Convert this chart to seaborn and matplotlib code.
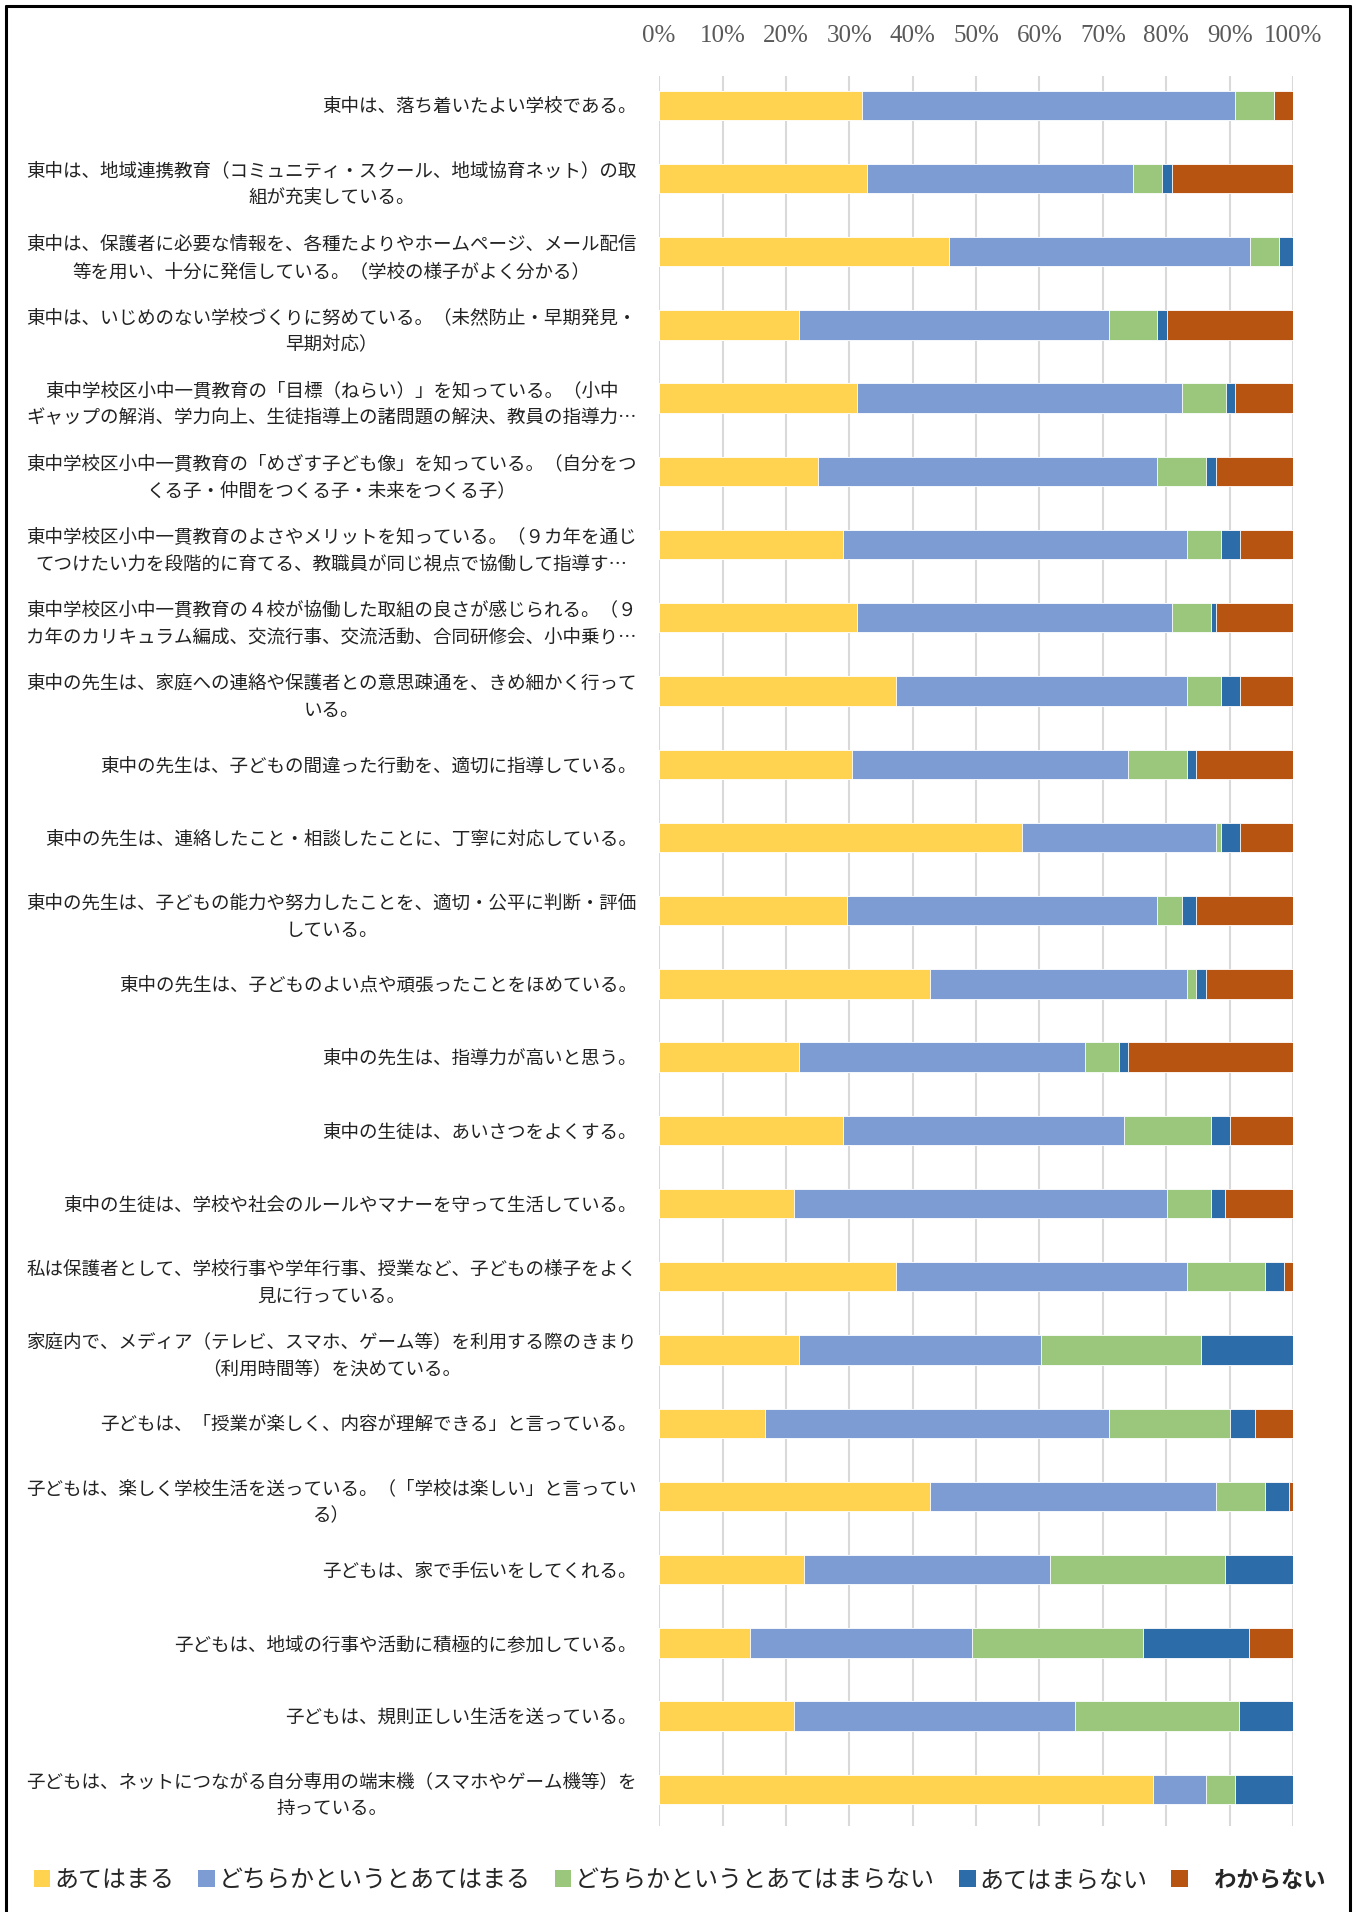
import numpy as np
import pandas as pd
import matplotlib.pyplot as plt
import seaborn as sns
from matplotlib.patches import Patch
from matplotlib.lines import Line2D

# Data (percent of responses per item)
items = [
    "東中は、落ち着いたよい学校である。",
    "東中は、地域連携教育（コミュニティ・スクール、地域協育ネット）の取\n組が充実している。",
    "東中は、保護者に必要な情報を、各種たよりやホームページ、メール配信\n等を用い、十分に発信している。（学校の様子がよく分かる）",
    "東中は、いじめのない学校づくりに努めている。（未然防止・早期発見・\n早期対応）",
    "東中学校区小中一貫教育の「目標（ねらい）」を知っている。（小中\nギャップの解消、学力向上、生徒指導上の諸問題の解決、教員の指導力…",
    "東中学校区小中一貫教育の「めざす子ども像」を知っている。（自分をつ\nくる子・仲間をつくる子・未来をつくる子）",
    "東中学校区小中一貫教育のよさやメリットを知っている。（９カ年を通じ\nてつけたい力を段階的に育てる、教職員が同じ視点で協働して指導す…",
    "東中学校区小中一貫教育の４校が協働した取組の良さが感じられる。（９\nカ年のカリキュラム編成、交流行事、交流活動、合同研修会、小中乗り…",
    "東中の先生は、家庭への連絡や保護者との意思疎通を、きめ細かく行って\nいる。",
    "東中の先生は、子どもの間違った行動を、適切に指導している。",
    "東中の先生は、連絡したこと・相談したことに、丁寧に対応している。",
    "東中の先生は、子どもの能力や努力したことを、適切・公平に判断・評価\nしている。",
    "東中の先生は、子どものよい点や頑張ったことをほめている。",
    "東中の先生は、指導力が高いと思う。",
    "東中の生徒は、あいさつをよくする。",
    "東中の生徒は、学校や社会のルールやマナーを守って生活している。",
    "私は保護者として、学校行事や学年行事、授業など、子どもの様子をよく\n見に行っている。",
    "家庭内で、メディア（テレビ、スマホ、ゲーム等）を利用する際のきまり\n（利用時間等）を決めている。",
    "子どもは、「授業が楽しく、内容が理解できる」と言っている。",
    "子どもは、楽しく学校生活を送っている。（「学校は楽しい」と言ってい\nる）",
    "子どもは、家で手伝いをしてくれる。",
    "子どもは、地域の行事や活動に積極的に参加している。",
    "子どもは、規則正しい生活を送っている。",
    "子どもは、ネットにつながる自分専用の端末機（スマホやゲーム機等）を\n持っている。",
]

categories = ["あてはまる", "どちらかというとあてはまる", "どちらかというとあてはまらない",
              "あてはまらない", "わからない"]

atehamaru = [32.0, 32.8, 45.8, 22.1, 31.2, 25.1, 29.0, 31.2, 37.3, 30.5, 57.2, 29.7,
             42.7, 22.1, 29.0, 21.3, 37.3, 22.1, 16.7, 42.7, 22.9, 14.4, 21.3, 77.9]
dochiraka_ate = [58.8, 42.0, 47.4, 48.8, 51.2, 53.5, 54.2, 49.7, 45.9, 43.5, 30.6, 48.9,
                 40.5, 45.0, 44.3, 58.8, 45.9, 38.2, 54.2, 45.1, 38.8, 35.0, 44.3, 8.3]
dochiraka_not = [6.2, 4.6, 4.5, 7.7, 7.0, 7.7, 5.4, 6.1, 5.4, 9.2, 0.8, 3.9,
                 1.5, 5.4, 13.7, 6.9, 12.3, 25.2, 19.2, 7.7, 27.5, 26.9, 25.9, 4.6]
atehamaranai = [0.0, 1.5, 2.3, 1.5, 1.5, 1.5, 3.0, 0.8, 3.0, 1.5, 3.0, 2.2,
                1.6, 1.5, 3.0, 2.3, 3.0, 14.5, 3.9, 3.8, 10.8, 16.8, 8.5, 9.2]
wakaranai = [3.0, 19.1, 0.0, 19.9, 9.1, 12.2, 8.4, 12.2, 8.4, 15.3, 8.4, 15.3,
             13.7, 26.0, 10.0, 10.7, 1.5, 0.0, 6.0, 0.7, 0.0, 6.9, 0.0, 0.0]

colors = ["#FFD34F", "#7D9CD4", "#9AC77B", "#2C6DA9", "#B85412"]

series = [atehamaru, dochiraka_ate, dochiraka_not, atehamaranai, wakaranai]
cum = np.cumsum(np.array(series), axis=0)

sns.set_style("white")
plt.rcParams['font.family'] = ['Noto Sans CJK JP', 'DejaVu Sans']

fig = plt.figure(figsize=(13.59, 19.12), dpi=100)
ax = fig.add_axes([0.485, 0.045, 0.4665, 0.9153])

# stacked bars: draw cumulative totals from the longest down
for k in range(len(series) - 1, -1, -1):
    df = pd.DataFrame({"item": items, "value": cum[k]})
    sns.barplot(data=df, x="value", y="item", orient="h", color=colors[k],
                saturation=1, width=0.4, edgecolor="white", linewidth=0.6, ax=ax)

ax.set_xlim(0, 100)
ax.set_ylim(len(items) - 0.5, -0.4)
ax.set_xticks(range(0, 101, 10))
ax.set_xticklabels([f"{v}%" for v in range(0, 101, 10)])
ax.xaxis.tick_top()
ax.tick_params(axis="x", length=0, pad=21, labelsize=18, labelcolor="#595959")
for t in ax.get_xticklabels():
    t.set_family(["Liberation Serif", "DejaVu Serif"])
ax.tick_params(axis="y", length=0, pad=16, labelsize=13.35, labelcolor="#222222")
for t in ax.get_yticklabels():
    t.set_multialignment("center")
    t.set_linespacing(1.65)
ax.set_xlabel("")
ax.set_ylabel("")
ax.grid(axis="x", color="#D9D9D9", linewidth=1.5)
ax.set_axisbelow(True)
for s in ax.spines.values():
    s.set_visible(False)

handles = [Patch(facecolor=c, edgecolor="none") for c in colors]
leg_labels = categories[:4] + ["\u3000" + categories[4]]
leg = fig.legend(handles, leg_labels, loc="center", bbox_to_anchor=(0.5, 1 - 1880 / 1912),
                 ncol=5, frameon=False, fontsize=17.3, handlelength=0.7, handleheight=0.7,
                 handletextpad=0.15, columnspacing=1.0)
leg.get_texts()[4].set_fontweight("bold")
leg.get_texts()[4].set_fontsize(16)

# outer frame
W, H = 1359, 1912
fig.add_artist(Line2D([6 / W, 6 / W], [0, 1 - 6 / H], color="black", lw=2.2))
fig.add_artist(Line2D([6 / W, 1350 / W], [1 - 6 / H, 1 - 6 / H], color="black", lw=2.2))
fig.add_artist(Line2D([1350 / W, 1350 / W], [0, 1 - 6 / H], color="black", lw=2.2))

fig.savefig("out.png", dpi=100)
